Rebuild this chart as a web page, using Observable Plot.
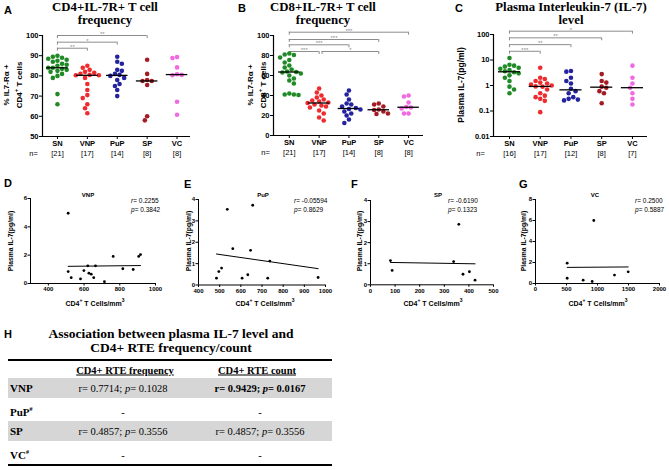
<!DOCTYPE html>
<html><head><meta charset="utf-8">
<script src="https://cdn.jsdelivr.net/npm/d3@7"></script>
<script src="https://cdn.jsdelivr.net/npm/@observablehq/plot@0.6"></script>
<style>
body{margin:0;background:#fff;}
#fig{position:relative;width:669px;height:470px;overflow:hidden;font-family:"Liberation Sans",Arial,sans-serif;color:#000;}
.abs{position:absolute;white-space:nowrap;}
.c{transform:translate(-50%,-50%);}
.l{transform:translate(0,-50%);}
.rot{transform:translate(-50%,-50%) rotate(-90deg);text-align:center;}
.title{font-family:"Liberation Serif","Times New Roman",serif;font-weight:bold;font-size:12.8px;text-align:center;line-height:12.5px;}
.letter{font-weight:bold;font-size:11px;}
.ylab{font-weight:bold;font-size:8px;line-height:9.5px;}
.sylab{font-weight:bold;font-size:6.8px;}
.stitle{font-weight:bold;font-size:6px;}
.stat{font-size:6.5px;line-height:8.5px;}
.xlab{font-weight:bold;font-size:7px;}
.serif{font-family:"Liberation Serif","Times New Roman",serif;}
.rule{position:absolute;background:#000;}
.band{position:absolute;background:#d6d6d6;}
svg{position:absolute;overflow:visible;}
</style></head>
<body><div id="fig"></div>
<script>
// ---------- categories & labels ----------
const cats = ["SN","VNP","PuP","SP","VC"];
const catColors = ["#1f8a26","#ee2b2e","#23239f","#a31c24","#f06ae0"];
const nA = [21,17,14,8,8];
const nB = [21,17,14,8,8];
const nC = [16,17,12,8,7];

// ---------- Panel A: % IL7-Ra+ CD4+ T cells ----------
const cd4_SN  = [90,89.5,89,88.5,88,87.5,87,86,85.5,85,84,84,83.5,83,82.5,82,81,80,79,71,66];
const cd4_VNP = [85,84,83,82,81.5,81,80.5,80.3,80.3,79,76,73,70.5,69,66,64,61.5];
const cd4_PuP = [89.5,87,86,83,82.5,81,80.5,80,79,78,76,75,73,70];
const cd4_SP  = [88,81,78,77.5,77.5,75.5,60,58];
const cd4_VC  = [89.3,88.8,84.2,80.8,80.5,80.3,67.2,60.8];
const bracketsA = [
  {from:1,to:2,level:93.7,label:"**"},
  {from:1,to:3,level:96.7,label:"*"},
  {from:1,to:4,level:100,label:"**"}
];

// ---------- Panel B: % IL7-Ra+ CD8+ T cells ----------
const cd8_SN  = [82,81,80.5,78,75.5,73,70,68,66,64,63.5,63,62,60,57,55,52,42,41,41,40.5];
const cd8_VNP = [47,43,40,38,36,35,34,33,32.5,31,30,29,28,25,22,18,15];
const cd8_PuP = [45,41,36,32,31,29,27.5,26.5,26,24,22,20,16,12.5];
const cd8_SP  = [32,31,29,26,25.5,24,22,21.5];
const cd8_VC  = [40,39,33,28.5,28,27,22,22];
const bracketsB = [
  {from:1,to:2,level:84,label:"***"},
  {from:2.1,to:4,level:84,label:"*"},
  {from:1,to:3,level:90.7,label:"***"},
  {from:1,to:4,level:96,label:"***"},
  {from:1,to:5,level:103.3,label:"***"}
];

// ---------- Panel C: plasma IL-7 (pg/ml) ----------
const il7_SN  = [12,6.5,6,5.5,5,4.5,4,3.6,3.3,3,2.5,2,1.5,0.9,0.7,0.5];
const il7_VNP = [5,2,1.8,1.5,1.3,1.2,1.1,1,0.92,0.9,0.7,0.5,0.4,0.35,0.3,0.25,0.09];
const il7_PuP = [3.7,3.5,2,1.5,1.2,0.75,0.6,0.5,0.35,0.3,0.28,0.26];
const il7_SP  = [2.8,1.5,1.3,0.9,0.82,0.6,0.5,0.2];
const il7_VC  = [6,2,1.2,0.82,0.5,0.3,0.18];
const bracketsC = [
  {from:1,to:2,level:22,label:"***"},
  {from:1,to:3,level:40,label:"**"},
  {from:1,to:4,level:74,label:"**"},
  {from:1,to:5,level:135,label:"*"}
];

// ---------- Panels D-G: CD4+ T cells/mm3 vs plasma IL-7 ----------
const vnpCount = [511,511,528,580,599,621,627,640,654,664,714,763,817,875,906,916];
const vnpIL7   = [4.96,0.84,0.41,0.32,0.91,1.25,0.73,0.66,0.41,1.25,0.13,1.91,1.04,0.99,1.91,2.04];
const pupCount = [485,496,509,606,633,727,737,965,536,656,562,646];
const pupIL7   = [0.32,0.63,0.79,0.32,0.48,0.32,1.12,0.35,3.54,3.73,1.7,1.62];
const spCount  = [81,88,338,359,376,402,425];
const spIL7    = [1.15,0.68,1.1,2.87,0.5,0.62,0.22];
const vcCount  = [511,511,769,914,1274,1495,940];
const vcIL7    = [1.94,0.5,0.32,0.19,0.8,1.11,6.0];
const corrStats = [
  {r:"0.2255", p:"0.3842"},
  {r:"-0.05594", p:"0.8629"},
  {r:"-0.6190", p:"0.1323"},
  {r:"0.2500", p:"0.5887"}
];

// ---------- Panel H table ----------
const tblRows = ["VNP","PuP","SP","VC"];
const tblHash = [false,true,false,true];
const tblFreq = ["r= 0.7714; p= 0.1028","-","r= 0.4857; p= 0.3556","-"];
const tblCount = ["r= 0.9429; p= 0.0167","-","r= 0.4857; p= 0.3556","-"];
const tblBold = [[false,true],[false,false],[false,false],[false,false]];

// ================= drawing =================
const fig = document.getElementById("fig");
function addText(html, x, y, cls, extra="") {
  const d = document.createElement("div");
  d.className = "abs " + cls;
  d.style.left = x + "px"; d.style.top = y + "px";
  if (extra) d.style.cssText += extra;
  d.innerHTML = html;
  fig.appendChild(d);
  return d;
}
function place(svg, left, top) {
  svg.style.left = left + "px"; svg.style.top = top + "px";
  fig.appendChild(svg);
}

function swarm(vals, i, ys, ppu, minD = 4.6, step = 2.3) {
  const placed = [];
  const order = vals.map((v, k) => k).sort((a, b) => vals[b] - vals[a]);
  const res = [];
  let flip = 1;
  for (const k of order) {
    const py = ys(vals[k]);
    let off = 0;
    for (let s = 0; s < 40; s++) {
      const tries = s === 0 ? [0] : [flip * s * step, -flip * s * step];
      let found = null;
      for (const t of tries) {
        if (placed.every(p => Math.hypot(p.x - t, p.y - py) >= minD)) { found = t; break; }
      }
      if (found !== null) { off = found; break; }
    }
    flip = -flip;
    placed.push({x: off, y: py});
    res.push({i, x: i + off / ppu, y: vals[k]});
  }
  return res;
}

function strip(cfg) {
  const {left, top, width, height, mt, mb, ml, mr, xdom, ydom, ytype, yticks, yfmt, groups, ns, brackets, nDx} = cfg;
  const yr = [height - mb, mt];
  const ys = (ytype === "log" ? d3.scaleLog() : d3.scaleLinear()).domain(ydom).range(yr);
  const ppu = (width - ml - mr) / (xdom[1] - xdom[0]);
  const pts = groups.flatMap((g, k) => swarm(g, k + 1, ys, ppu));
  const meds = groups.map((g, k) => ({i: k + 1, m: d3.median(g)}));
  const down = v => ys.invert(ys(v) + 3);
  const ends = brackets.flatMap(b => [{x: b.from, level: b.level}, {x: b.to, level: b.level}]);
  const idx = cats.map((c, k) => k + 1);
  const grey = "#8c8c8c";
  const svg = Plot.plot({
    width, height, marginTop: mt, marginBottom: mb, marginLeft: ml, marginRight: mr,
    style: {fontFamily: "Liberation Sans, Arial, sans-serif", fontSize: "7.5px", fontWeight: "bold", background: "transparent", color: "#000"},
    x: {domain: xdom, ticks: idx, tickFormat: i => cats[i - 1], tickSize: 3, tickPadding: 1.5, label: null},
    y: {type: ytype || "linear", domain: ydom, ticks: yticks, tickFormat: yfmt, tickSize: 3, tickPadding: 1, label: null},
    marks: [
      Plot.ruleX([xdom[0]], {x: d => d, y1: () => ydom[0], y2: () => ydom[1], stroke: "#000", strokeWidth: 1.2}),
      Plot.ruleY([ydom[0]], {y: d => d, stroke: "#000", strokeWidth: 1.2}),
      Plot.ruleY(brackets, {x1: "from", x2: "to", y: "level", stroke: grey, strokeWidth: 1}),
      Plot.ruleX(ends, {x: "x", y1: "level", y2: d => down(d.level), stroke: grey, strokeWidth: 1}),
      Plot.text(brackets, {x: d => (d.from + d.to) / 2, y: "level", text: "label", dy: -1.5, fontSize: 6, fill: grey, fontWeight: "normal"}),
      Plot.dot(pts, {x: "x", y: "y", r: 2.3, fill: d => catColors[d.i - 1], stroke: "none"}),
      Plot.ruleY(meds, {x1: d => d.i - 0.36, x2: d => d.i + 0.36, y: "m", stroke: "#000", strokeWidth: 1.3}),
      Plot.text(idx, {x: d => d, y: () => ydom[0], text: d => "[" + ns[d - 1] + "]", dy: 17, fontWeight: "normal", fontSize: 7.5}),
      Plot.text(["n="], {x: () => xdom[0], y: () => ydom[0], text: d => d, dx: nDx, dy: 17, fontWeight: "normal", fontSize: 7.5})
    ]
  });
  place(svg, left, top);
}

strip({left: 0, top: 25, width: 220, height: 140, mt: 10, mb: 29, ml: 42, mr: 30,
  xdom: [0.5, 5.45], ydom: [50, 100], yticks: [50,60,70,80,90,100], yfmt: d => d,
  groups: [cd4_SN, cd4_VNP, cd4_PuP, cd4_SP, cd4_VC], ns: nA, brackets: bracketsA, nDx: -9});
strip({left: 220, top: 25, width: 220, height: 140, mt: 10, mb: 30, ml: 53, mr: 17,
  xdom: [0.47, 5.5], ydom: [0, 100], yticks: [0,20,40,60,80,100], yfmt: d => d,
  groups: [cd8_SN, cd8_VNP, cd8_PuP, cd8_SP, cd8_VC], ns: nB, brackets: bracketsB, nDx: -8});
strip({left: 440, top: 24, width: 229, height: 140, mt: 10, mb: 28, ml: 53, mr: 22,
  xdom: [0.48, 5.49], ydom: [0.01, 100], ytype: "log", yticks: [0.01,0.1,1,10,100], yfmt: d => String(d),
  groups: [il7_SN, il7_VNP, il7_PuP, il7_SP, il7_VC], ns: nC, brackets: bracketsC, nDx: -13});

function corr(cfg) {
  const {left, top, width, height, mt, mb, ml, mr, xdom, xticks, ydom, yticks, xs, ys} = cfg;
  const pts = xs.map((x, k) => ({x, y: ys[k]}));
  const svg = Plot.plot({
    width, height, marginTop: mt, marginBottom: mb, marginLeft: ml, marginRight: mr,
    style: {fontFamily: "Liberation Sans, Arial, sans-serif", fontSize: "6px", fontWeight: "bold", background: "transparent", color: "#000"},
    x: {domain: xdom, ticks: xticks, tickFormat: d => String(d), tickSize: 2.5, tickPadding: 1, label: null},
    y: {domain: ydom, ticks: yticks, tickFormat: d => String(d), tickSize: 2.5, tickPadding: 1, label: null},
    marks: [
      Plot.ruleX([xdom[0]], {x: d => d, stroke: "#000", strokeWidth: 1}),
      Plot.ruleY([ydom[0]], {y: d => d, stroke: "#000", strokeWidth: 1}),
      Plot.dot(pts, {x: "x", y: "y", r: 1.4, fill: "#000", stroke: "none"}),
      Plot.linearRegressionY(pts, {x: "x", y: "y", stroke: "#000", strokeWidth: 1, ci: 0})
    ]
  });
  place(svg, left, top);
}
corr({left: 0, top: 185, width: 170, height: 125, mt: 13, mb: 27, ml: 30, mr: 15,
  xdom: [300, 1000], xticks: [400,600,800,1000], ydom: [0, 6], yticks: [0,2,4,6], xs: vnpCount, ys: vnpIL7});
corr({left: 165, top: 185, width: 170, height: 125, mt: 14, mb: 25.5, ml: 33, mr: 10,
  xdom: [400, 1000], xticks: [400,500,600,700,800,900,1000], ydom: [0, 4], yticks: [0,1,2,3,4], xs: pupCount, ys: pupIL7});
corr({left: 330, top: 185, width: 170, height: 125, mt: 15, mb: 25.7, ml: 40, mr: 7,
  xdom: [0, 500], xticks: [0,100,200,300,400,500], ydom: [0, 4], yticks: [0,1,2,3,4], xs: spCount, ys: spIL7});
corr({left: 495, top: 185, width: 174, height: 125, mt: 14, mb: 27, ml: 40, mr: 10,
  xdom: [0, 2000], xticks: [0,500,1000,1500,2000], ydom: [0, 8], yticks: [0,2,4,6,8], xs: vcCount, ys: vcIL7});

// ---------- HTML text: titles, letters, axis labels ----------
addText("A", 4, 4, "letter");
addText("B", 238, 2, "letter");
addText("C", 455, 2, "letter");
addText("D", 4, 177, "letter");
addText("E", 184, 178, "letter");
addText("F", 351, 178, "letter");
addText("G", 519, 178, "letter");
addText("H", 4, 328, "letter");
const titles = [["CD4+IL-7R+ T cell","frequency",105],["CD8+IL-7R+ T cell","frequency",323],["Plasma Interleukin-7 (IL-7)","level",571]];
titles.forEach(([a, b, x]) => { addText(a, x, 7, "title c"); addText(b, x, 20, "title c"); });
addText("% IL7-R\u03b1 +<br>CD4<sup style='font-size:6px'>+</sup> T cells", 13, 85, "ylab rot");
addText("% IL7-R\u03b1 +<br>CD8<sup style='font-size:6px'>+</sup> T cells", 257, 85, "ylab rot");
addText("Plasma IL-7(pg/ml)", 462, 85, "ylab rot", "font-size:8.5px;");

const corrTitles = ["VNP","PuP","SP","VC"];
const titleX = [88, 263, 438, 595];
const statX = [131, 294, 448, 635];
const ylabX = [10, 188, 359, 523];
const xlabX = [95, 265, 433, 598];
corrTitles.forEach((t, k) => {
  addText(t, titleX[k], 195, "stitle c");
  addText("<i>r</i>= " + corrStats[k].r + "<br><i>p</i>= " + corrStats[k].p, statX[k], 205, "stat l");
  addText("Plasma IL-7(pg/ml)", ylabX[k], 241, "sylab rot");
  addText("CD4<sup style='font-size:5px'>+</sup> T Cells/mm<sup style='font-size:5px'>3</sup>", xlabX[k], 302, "xlab c");
});

// ---------- Table H ----------
addText("Association between plasma IL-7 level and", 171, 333, "title c", "font-size:13.5px;line-height:13px;");
addText("CD4+ RTE frequency/count", 171, 346.5, "title c", "font-size:13.5px;line-height:13px;");
const r1 = document.createElement("div"); r1.className = "rule"; r1.style.cssText = "left:8px;top:359px;width:324px;height:2px;"; fig.appendChild(r1);
const r2 = document.createElement("div"); r2.className = "rule"; r2.style.cssText = "left:8px;top:464px;width:324px;height:2px;"; fig.appendChild(r2);
addText("CD4+ RTE frequency", 125, 370, "serif c", "font-weight:bold;font-size:10.5px;text-decoration:underline;");
addText("CD4+ RTE count", 257, 370, "serif c", "font-weight:bold;font-size:10.5px;text-decoration:underline;");
const rowY = [388, 412, 431, 455];
tblRows.forEach((name, k) => {
  if (k % 2 === 0) {
    const b = document.createElement("div"); b.className = "band";
    b.style.cssText = `left:8px;top:${rowY[k] - 10}px;width:324px;height:20px;`;
    fig.appendChild(b);
  }
  addText(name + (tblHash[k] ? "<sup style='font-size:6px'>#</sup>" : ""), 10, rowY[k], "serif l", "font-weight:bold;font-size:11px;");
  const fmt = s => s.replace("p=", "<i>p</i>=");
  addText(fmt(tblFreq[k]), 123, rowY[k], "serif c", `font-size:10.5px;${tblBold[k][0] ? "font-weight:bold;" : ""}`);
  addText(fmt(tblCount[k]), 260, rowY[k], "serif c", `font-size:10.5px;${tblBold[k][1] ? "font-weight:bold;" : ""}`);
});
</script>
</body></html>
